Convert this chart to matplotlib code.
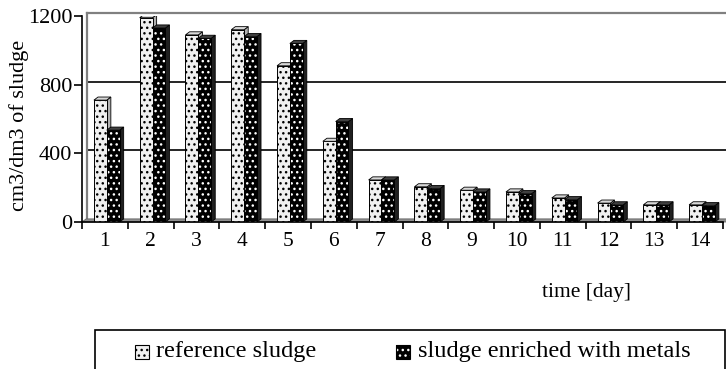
import numpy as np
import matplotlib.pyplot as plt
from matplotlib.patches import Polygon, Rectangle
from matplotlib.transforms import offset_copy

plt.rcParams['font.family'] = ['Liberation Serif', 'DejaVu Serif']
plt.rcParams['hatch.linewidth'] = 1.0

days = np.arange(1, 15)
reference_sludge = [710, 1190, 1090, 1120, 910, 470, 245, 205, 185, 175, 140, 110, 100, 100]
enriched_sludge = [535, 1130, 1070, 1080, 1040, 585, 245, 195, 175, 165, 130, 100, 100, 95]
y_ticks = [0, 400, 800, 1200]

# fake 3D depth (data units)
dx = 0.09
dy = 18
w = 0.28


def bar3d(ax, x, h, front, side, top, hatch, dot_col, z):
    ax.add_patch(Polygon([(x + w, 0), (x + w + dx, dy), (x + w + dx, h + dy), (x + w, h)],
                         closed=True, facecolor=side, edgecolor='black', lw=0.6, zorder=z))
    ax.bar(x, h, w, align='edge', color=front, edgecolor=dot_col, hatch=hatch,
           linewidth=0, zorder=z + 0.1)
    ax.bar(x, h, w, align='edge', fill=False, edgecolor='black', linewidth=0.7, zorder=z + 0.2)
    ax.add_patch(Polygon([(x, h), (x + dx, h + dy), (x + w + dx, h + dy), (x + w, h)],
                         closed=True, facecolor=top, edgecolor='black', lw=0.6, zorder=z + 0.3))


fig = plt.figure(figsize=(7.26, 3.69), dpi=100)
ax = fig.add_axes([82 / 726, 147 / 369, 641 / 726, 206 / 369])
ax.set_xlim(0.5, 14.5)
ax.set_ylim(0, 1200)

back = offset_copy(ax.transData, fig, x=5, y=3, units='dots')

# back wall, floor, gridlines
for g in [400, 800]:
    ax.plot([0.5, 14.6], [g, g], color='black', lw=1.2, transform=back, clip_on=False, zorder=1)
ax.plot([0.5, 14.6], [1200, 1200], color='#808080', lw=1.6, transform=back, clip_on=False, zorder=1)
ax.plot([0.5, 0.5], [0, 1200], color='#808080', lw=1.6, transform=back, clip_on=False, zorder=1)
ax.add_patch(Polygon([(0.5, 0), (14.6, 0), (14.6 + dx, dy), (0.5 + dx, dy)], closed=True,
                     facecolor='#909090', edgecolor='#606060', lw=0.6, clip_on=False, zorder=1.5))

for i, d in enumerate(days):
    z = 3 + i
    bar3d(ax, d - 0.24, reference_sludge[i], '#f0f0f0', '#b0b0b0', '#d8d8d8', '...', 'black', z)
    bar3d(ax, d + 0.04, enriched_sludge[i], 'black', '#202020', '#404040', '...', 'white', z + 0.5)

for s in ['top', 'right']:
    ax.spines[s].set_visible(False)
for s in ['left', 'bottom']:
    ax.spines[s].set_linewidth(1.2)
    ax.spines[s].set_zorder(30)

ax.set_xticks(days)
ax.set_xticklabels([str(d) for d in days], fontsize=15.5)
ax.set_xticks(np.arange(0.5, 15, 1), minor=True)
ax.tick_params(axis='x', which='major', length=0, pad=7)
ax.tick_params(axis='x', which='minor', length=5, width=1.2, direction='out')
ax.set_yticks(y_ticks)
ax.set_yticklabels([str(t) for t in y_ticks], fontsize=16)
ax.tick_params(axis='y', length=6, width=1.2, direction='out', pad=1)
ax.set_ylabel('cm3/dm3 of sludge', fontsize=16)
ax.yaxis.set_label_coords(-0.082, 0.47)

fig.text(587 / 726, 1 - 293 / 369, 'time [day]', fontsize=15.5, ha='center', va='center')

# legend box
fig.patches.append(Rectangle((95 / 726, -0.05), 630 / 726, 1 - 330 / 369 + 0.05,
                             transform=fig.transFigure, fill=False, edgecolor='black', lw=1.2))
fig.patches.append(Rectangle((135 / 726, 1 - 359 / 369), 14 / 726, 14 / 369, transform=fig.transFigure,
                             facecolor='#f0f0f0', edgecolor='black', hatch='...', lw=0.8))
fig.patches.append(Rectangle((396 / 726, 1 - 359 / 369), 14 / 726, 14 / 369, transform=fig.transFigure,
                             facecolor='black', edgecolor='white', hatch='...', lw=0))
fig.patches.append(Rectangle((396 / 726, 1 - 359 / 369), 14 / 726, 14 / 369, transform=fig.transFigure,
                             fill=False, edgecolor='black', lw=0.8))
fig.text(156 / 726, 1 - 352 / 369, 'reference sludge', fontsize=17.5, va='center')
fig.text(418 / 726, 1 - 352 / 369, 'sludge enriched with metals', fontsize=17.5, va='center')

fig.savefig('out.png', dpi=100)
